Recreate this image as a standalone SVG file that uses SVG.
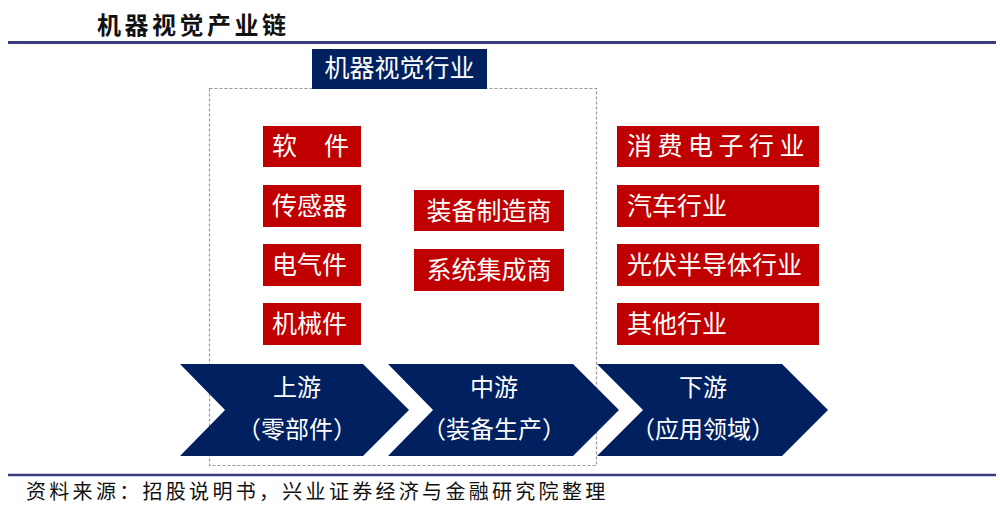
<svg xmlns="http://www.w3.org/2000/svg" width="1000" height="506" viewBox="0 0 1000 506">
<style>
.cjk{font-family:"Noto Sans CJK SC","Noto Sans",sans-serif}
.red{fill:#C00000}
.navy{fill:#002060}
.wt{fill:#FFFFFF;font-size:25px}
.ch{fill:#FFFFFF;font-size:24px;text-anchor:middle}
</style>
<rect width="1000" height="506" fill="#FFFFFF"/>
<text class="cjk" x="97" y="34" font-size="24" font-weight="bold" letter-spacing="3.5" fill="#111">机器视觉产业链</text>
<line x1="8" y1="42.5" x2="996" y2="42.5" stroke="#393D7E" stroke-width="3"/>
<rect x="209.5" y="88.5" width="387" height="377" fill="none" stroke="#999999" stroke-width="1.2" stroke-dasharray="3,2"/>
<g id="industry">
<rect x="312" y="49" width="175" height="40" class="navy"/>
<text class="cjk" x="399.5" y="77" font-size="25" text-anchor="middle" fill="#FFFFFF">机器视觉行业</text>
</g>
<g id="up-software"><rect x="263" y="126" width="98" height="41" class="red"/><text class="cjk wt" x="272" y="155">软</text><text class="cjk wt" x="324" y="155">件</text></g>
<g id="up-sensor"><rect x="263" y="185" width="98" height="42" class="red"/><text class="cjk wt" x="272" y="215">传感器</text></g>
<g id="up-electric"><rect x="263" y="244" width="98" height="42" class="red"/><text class="cjk wt" x="272" y="274">电气件</text></g>
<g id="up-mechanical"><rect x="263" y="303" width="98" height="42" class="red"/><text class="cjk wt" x="272" y="333">机械件</text></g>
<g id="mid-equipment"><rect x="414" y="190" width="150" height="41" class="red"/><text class="cjk wt" x="489" y="220" text-anchor="middle">装备制造商</text></g>
<g id="mid-integrator"><rect x="414" y="249" width="150" height="42" class="red"/><text class="cjk wt" x="489" y="279" text-anchor="middle">系统集成商</text></g>
<g id="down-consumer"><rect x="617" y="126" width="202" height="41" class="red"/><text class="cjk wt" x="627" y="155" letter-spacing="5.5">消费电子行业</text></g>
<g id="down-auto"><rect x="617" y="185" width="202" height="42" class="red"/><text class="cjk wt" x="627" y="215">汽车行业</text></g>
<g id="down-pv"><rect x="617" y="244" width="202" height="42" class="red"/><text class="cjk wt" x="627" y="274">光伏半导体行业</text></g>
<g id="down-other"><rect x="617" y="303" width="202" height="42" class="red"/><text class="cjk wt" x="627" y="333">其他行业</text></g>
<g id="connectors"></g>
<g id="chev-up">
<path class="navy" d="M180,364 L363,364 L409,410 L363,456 L180,456 L225,410 Z"/>
<text class="cjk ch" x="297" y="396">上游</text>
<text class="cjk ch" x="297" y="438">（零部件）</text>
</g>
<g id="chev-mid">
<path class="navy" d="M388,364 L573,364 L619,410 L573,456 L388,456 L433,410 Z"/>
<text class="cjk ch" x="494" y="396">中游</text>
<text class="cjk ch" x="494" y="438">（装备生产）</text>
</g>
<g id="chev-down">
<path class="navy" d="M597,364 L782,364 L828,410 L782,456 L597,456 L643,410 Z"/>
<text class="cjk ch" x="703" y="396">下游</text>
<text class="cjk ch" x="703" y="438">（应用领域）</text>
</g>
<line x1="8" y1="475" x2="996" y2="475" stroke="#393D7E" stroke-width="2.5"/>
<text class="cjk" x="26" y="499" font-size="20" letter-spacing="3.3" fill="#111">资料来源：招股说明书，兴业证券经济与金融研究院整理</text>
</svg>
